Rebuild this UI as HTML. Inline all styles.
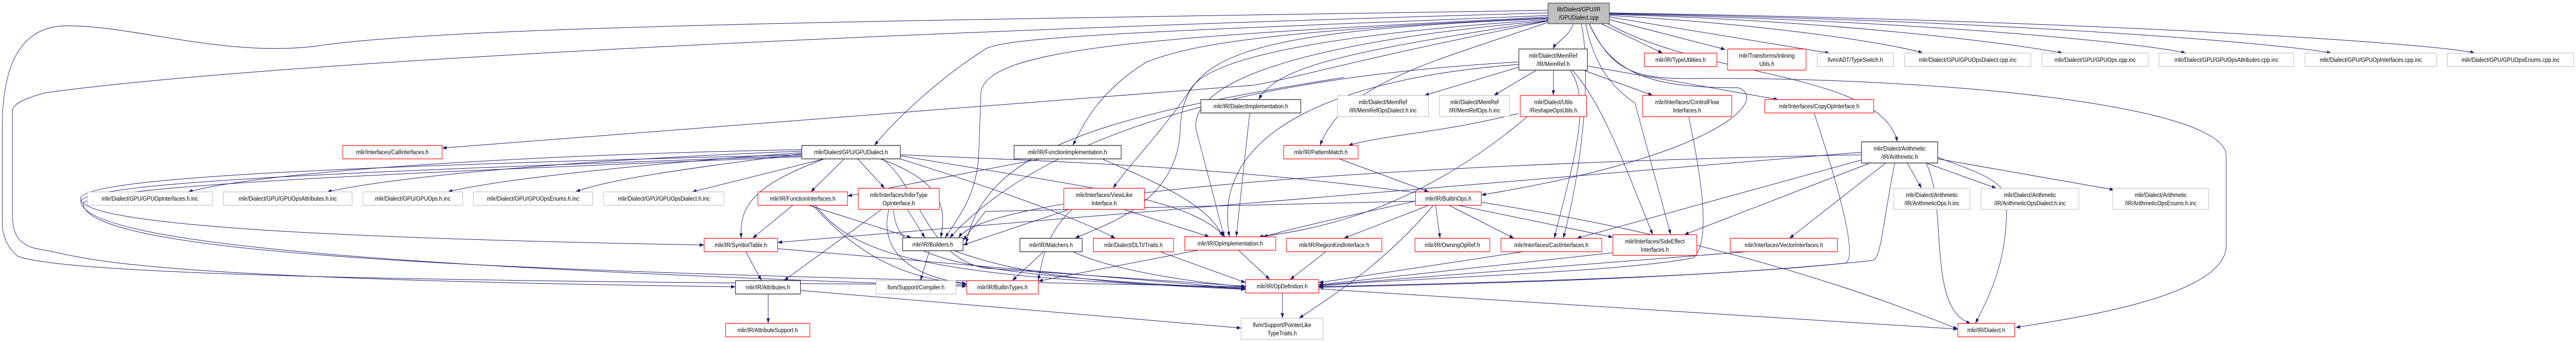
<!DOCTYPE html>
<html><head><meta charset="utf-8"><style>
html,body{margin:0;padding:0;background:#fff;overflow:hidden;width:100%;height:100%;}
svg{display:block;position:absolute;left:0;top:0;width:100vw;height:100vh;}
text{font-family:"Liberation Sans",sans-serif;font-size:12px;fill:#000;}
.b{fill:#fff;stroke:#404040;stroke-width:1.5;}
.r{fill:#fff;stroke:#ff0000;stroke-width:1.2;}
.g{fill:#fff;stroke:#bfbfbf;stroke-width:1.2;}
.e{fill:none;stroke:#191970;stroke-width:1;}
</style></head><body>
<svg viewBox="0 0 5751 663" preserveAspectRatio="none" xmlns="http://www.w3.org/2000/svg">
<defs><marker id="a" markerWidth="10" markerHeight="7" refX="10" refY="3.5" orient="auto" markerUnits="userSpaceOnUse"><path d="M0,0 L10,3.5 L0,7 z" fill="#191970"/></marker></defs>
<g marker-end="url(#a)">
<path class="e" d="M3512,46 C3505,70 3475,80 3467,95"/>
<path class="e" d="M3575,46 L3712,103"/>
<path class="e" d="M3593,38 L3852,96"/>
<path class="e" d="M3593,33 L4085,103"/>
<path class="e" d="M3593,30 C4000,50 4250,90 4293,103"/>
<path class="e" d="M3593,28 C4100,40 4500,85 4605,103"/>
<path class="e" d="M3593,27 C4300,40 4800,85 4880,103"/>
<path class="e" d="M3593,26 C4500,40 5100,85 5205,103"/>
<path class="e" d="M3593,25 C4700,40 5450,85 5525,103"/>
<path class="e" d="M3548,46 C3600,140 3650,155 3800,152 C4300,150 4960,200 4970,300 L4970,480 C4960,580 4600,620 4500,635"/>
<path class="e" d="M3590,46 C3800,150 4200,140 4236,275"/>
<path class="e" d="M3457,30 C2600,60 2250,70 2200,95 C2100,150 2000,230 1952,282"/>
<path class="e" d="M3457,35 C2800,60 2650,90 2560,120 C2450,180 2420,240 2395,282"/>
<path class="e" d="M3460,40 C3000,100 2850,130 2810,193"/>
<path class="e" d="M3460,42 C3200,120 3000,160 2947,282"/>
<path class="e" d="M3457,38 C2900,70 2700,120 2660,170 C2600,250 2520,320 2485,365"/>
<path class="e" d="M3457,33 C2600,70 2200,90 2190,180 L2185,300 C2180,380 2140,420 2110,461"/>
<path class="e" d="M3457,36 C2800,60 2640,100 2635,250 C2630,400 2450,440 2400,462"/>
<path class="e" d="M3457,40 C2800,90 2660,180 2670,250 L2733,459"/>
<path class="e" d="M3548,46 C3600,150 3700,170 3880,170 C3950,190 3850,300 3307,378"/>
<path class="e" d="M3460,40 C3000,120 2900,150 2800,165 L987,287"/>
<path class="e" d="M3540,46 C3560,130 3600,170 3650,200 L3730,455"/>
<path class="e" d="M3530,46 C3550,120 3540,300 3490,462"/>
<path class="e" d="M3457,20 C2000,40 1000,50 700,90 C500,110 300,50 150,50 C30,50 5,150 5,250 L5,430 C5,470 30,490 40,497 C150,530 800,545 2158,552"/>
<path class="e" d="M3457,25 C2000,60 600,120 100,180 C60,190 28,200 28,215 L28,420 C28,470 60,480 100,485 C200,500 250,540 1642,556"/>
<path class="e" d="M1790,290 C1200,300 600,330 420,372"/>
<path class="e" d="M1790,293 C1300,310 900,340 730,372"/>
<path class="e" d="M1790,296 C1400,320 1100,350 1000,372"/>
<path class="e" d="M1790,298 C1500,330 1350,350 1285,372"/>
<path class="e" d="M1840,308 L1545,372"/>
<path class="e" d="M1885,308 L1810,372"/>
<path class="e" d="M1915,308 L1975,365"/>
<path class="e" d="M1840,308 C1680,360 1650,400 1655,462"/>
<path class="e" d="M1965,308 C2100,350 2115,400 2100,461"/>
<path class="e" d="M2010,308 C2200,360 2400,420 2490,462"/>
<path class="e" d="M2010,302 C2400,360 2650,380 2735,459"/>
<path class="e" d="M1790,300 C900,320 180,340 180,385 C180,430 600,460 1572,475"/>
<path class="e" d="M1790,302 C900,330 200,350 180,390 C190,480 1000,520 2158,555"/>
<path class="e" d="M1790,304 C900,335 200,360 185,395 C200,500 1200,530 2781,556"/>
<path class="e" d="M2010,300 C2500,320 3500,330 4371,638"/>
<path class="e" d="M1970,308 C2050,360 2070,500 2200,520 L2781,555"/>
<path class="e" d="M1770,398 L1680,462"/>
<path class="e" d="M1805,398 L2035,461"/>
<path class="e" d="M1815,398 C1900,480 2000,540 2158,550"/>
<path class="e" d="M1820,398 C1900,480 2000,540 2781,558"/>
<path class="e" d="M1970,405 L1750,544"/>
<path class="e" d="M2025,405 L2065,461"/>
<path class="e" d="M1985,405 C1970,450 1980,530 2158,550"/>
<path class="e" d="M1995,405 C2000,500 2100,530 2781,560"/>
<path class="e" d="M1665,488 L1700,544"/>
<path class="e" d="M1736,482 L2781,560"/>
<path class="e" d="M2075,486 L2055,544"/>
<path class="e" d="M2130,486 C2300,540 2500,550 2781,561"/>
<path class="e" d="M1787,563 L2771,636"/>
<path class="e" d="M1715,570 L1715,627"/>
<path class="e" d="M2330,488 L2260,544"/>
<path class="e" d="M2395,488 C2500,530 2700,550 2781,556"/>
<path class="e" d="M2590,488 L2781,548"/>
<path class="e" d="M2675,485 L2318,545"/>
<path class="e" d="M2765,485 L2835,542"/>
<path class="e" d="M2960,488 L2880,542"/>
<path class="e" d="M2863,568 L2863,617"/>
<path class="e" d="M2944,560 L4371,638"/>
<path class="e" d="M2390,405 L2150,475"/>
<path class="e" d="M2395,405 C2350,440 2330,480 2318,544"/>
<path class="e" d="M2505,405 L2700,459"/>
<path class="e" d="M2323,308 L1892,380"/>
<path class="e" d="M2460,308 C2600,360 2700,400 2730,459"/>
<path class="e" d="M2790,219 L2760,459"/>
<path class="e" d="M3160,390 C3000,420 2900,440 2820,459"/>
<path class="e" d="M3190,398 L3000,462"/>
<path class="e" d="M3205,398 L3215,462"/>
<path class="e" d="M3235,398 L3380,462"/>
<path class="e" d="M3255,398 L3601,460"/>
<path class="e" d="M3200,398 C3100,500 3000,560 2900,617"/>
<path class="e" d="M3160,390 L2200,410 L2150,466"/>
<path class="e" d="M2990,308 L3190,372"/>
<path class="e" d="M3390,220 C3200,260 3100,260 3010,282"/>
<path class="e" d="M3410,226 C3200,380 3000,440 2810,459"/>
<path class="e" d="M3391,130 L3180,185"/>
<path class="e" d="M3430,136 L3335,185"/>
<path class="e" d="M3468,136 L3468,185"/>
<path class="e" d="M3535,136 L3690,185"/>
<path class="e" d="M3544,128 L3970,193"/>
<path class="e" d="M3505,136 C3560,200 3500,350 3470,462"/>
<path class="e" d="M3510,136 C3580,200 3640,350 3690,455"/>
<path class="e" d="M3391,120 C3000,140 2400,200 2120,461"/>
<path class="e" d="M3391,125 C3000,150 2700,250 2745,459"/>
<path class="e" d="M3770,226 C3800,350 3820,470 3780,500 C3600,530 3100,540 2944,555"/>
<path class="e" d="M4050,219 C4100,350 4150,500 4120,510 C3800,540 3200,550 2944,556"/>
<path class="e" d="M3400,488 L2944,548"/>
<path class="e" d="M3601,490 L2944,552"/>
<path class="e" d="M3900,488 L2944,553"/>
<path class="e" d="M4156,310 L3520,462"/>
<path class="e" d="M4175,316 L3760,455"/>
<path class="e" d="M4210,316 L3995,462"/>
<path class="e" d="M4258,316 L4290,365"/>
<path class="e" d="M4300,316 L4457,365"/>
<path class="e" d="M4326,308 L4720,368"/>
<path class="e" d="M4326,305 C4400,330 4490,350 4480,400 C4480,500 4450,560 4410,627"/>
<path class="e" d="M4300,316 C4350,400 4300,600 4400,627"/>
<path class="e" d="M4230,316 C4200,450 4200,500 4180,505 C3800,540 3300,550 2944,557"/>
<path class="e" d="M4156,300 C3000,320 2200,380 2140,461"/>
<path class="e" d="M4156,295 L1736,470"/>
<path class="e" d="M3000,150 C2500,220 2200,280 2157,472"/>
</g>
<rect class="g" x="3456" y="6" width="137" height="40" style="fill:#bfbfbf;stroke:#404040"/>
<text x="3524.5" y="22" text-anchor="middle">lib/Dialect/GPU/IR</text><text x="3524.5" y="38" text-anchor="middle">/GPUDialect.cpp</text>
<rect class="b" x="3391" y="95" width="153" height="41"/><text x="3467.5" y="112" text-anchor="middle">mlir/Dialect/MemRef</text><text x="3467.5" y="128" text-anchor="middle">/IR/MemRef.h</text>
<rect class="r" x="3671" y="103" width="162" height="26"/><text x="3752" y="120" text-anchor="middle">mlir/IR/TypeUtilities.h</text>
<rect class="r" x="3857" y="95" width="175" height="41"/><text x="3944.5" y="112" text-anchor="middle">mlir/Transforms/Inlining</text><text x="3944.5" y="128" text-anchor="middle">Utils.h</text>
<rect class="g" x="4057" y="103" width="170" height="26"/><text x="4142" y="120" text-anchor="middle">llvm/ADT/TypeSwitch.h</text>
<rect class="g" x="4252" y="103" width="282" height="26"/><text x="4393" y="120" text-anchor="middle">mlir/Dialect/GPU/GPUOpsDialect.cpp.inc</text>
<rect class="g" x="4559" y="103" width="237" height="26"/><text x="4677.5" y="120" text-anchor="middle">mlir/Dialect/GPU/GPUOps.cpp.inc</text>
<rect class="g" x="4820" y="103" width="301" height="26"/><text x="4970.5" y="120" text-anchor="middle">mlir/Dialect/GPU/GPUOpsAttributes.cpp.inc</text>
<rect class="g" x="5146" y="103" width="294" height="26"/><text x="5293" y="120" text-anchor="middle">mlir/Dialect/GPU/GPUOpInterfaces.cpp.inc</text>
<rect class="g" x="5464" y="103" width="282" height="26"/><text x="5605" y="120" text-anchor="middle">mlir/Dialect/GPU/GPUOpsEnums.cpp.inc</text>
<rect class="b" x="2681" y="193" width="223" height="26"/><text x="2792.5" y="210" text-anchor="middle">mlir/IR/DialectImplementation.h</text>
<rect class="g" x="2986" y="185" width="203" height="41"/><text x="3087.5" y="202" text-anchor="middle">mlir/Dialect/MemRef</text><text x="3087.5" y="218" text-anchor="middle">/IR/MemRefOpsDialect.h.inc</text>
<rect class="g" x="3214" y="185" width="156" height="41"/><text x="3292" y="202" text-anchor="middle">mlir/Dialect/MemRef</text><text x="3292" y="218" text-anchor="middle">/IR/MemRefOps.h.inc</text>
<rect class="r" x="3394" y="185" width="148" height="41"/><text x="3468" y="202" text-anchor="middle">mlir/Dialect/Utils</text><text x="3468" y="218" text-anchor="middle">/ReshapeOpsUtils.h</text>
<rect class="r" x="3667" y="185" width="199" height="41"/><text x="3766.5" y="202" text-anchor="middle">mlir/Interfaces/ControlFlow</text><text x="3766.5" y="218" text-anchor="middle">Interfaces.h</text>
<rect class="r" x="3940" y="193" width="243" height="26"/><text x="4061.5" y="210" text-anchor="middle">mlir/Interfaces/CopyOpInterface.h</text>
<rect class="r" x="765" y="282" width="222" height="26"/><text x="876" y="299" text-anchor="middle">mlir/Interfaces/CallInterfaces.h</text>
<rect class="b" x="1790" y="282" width="220" height="26"/><text x="1900" y="299" text-anchor="middle">mlir/Dialect/GPU/GPUDialect.h</text>
<rect class="b" x="2264" y="282" width="239" height="26"/><text x="2383.5" y="299" text-anchor="middle">mlir/IR/FunctionImplementation.h</text>
<rect class="r" x="2866" y="282" width="166" height="26"/><text x="2949" y="299" text-anchor="middle">mlir/IR/PatternMatch.h</text>
<rect class="b" x="4156" y="275" width="170" height="41"/><text x="4241" y="292" text-anchor="middle">mlir/Dialect/Arithmetic</text><text x="4241" y="308" text-anchor="middle">/IR/Arithmetic.h</text>
<rect class="g" x="195" y="372" width="279" height="26"/><text x="334.5" y="389" text-anchor="middle">mlir/Dialect/GPU/GPUOpInterfaces.h.inc</text>
<rect class="g" x="499" y="372" width="287" height="26"/><text x="642.5" y="389" text-anchor="middle">mlir/Dialect/GPU/GPUOpsAttributes.h.inc</text>
<rect class="g" x="810" y="372" width="223" height="26"/><text x="921.5" y="389" text-anchor="middle">mlir/Dialect/GPU/GPUOps.h.inc</text>
<rect class="g" x="1057" y="372" width="266" height="26"/><text x="1190" y="389" text-anchor="middle">mlir/Dialect/GPU/GPUOpsEnums.h.inc</text>
<rect class="g" x="1348" y="372" width="268" height="26"/><text x="1482" y="389" text-anchor="middle">mlir/Dialect/GPU/GPUOpsDialect.h.inc</text>
<rect class="r" x="1692" y="372" width="200" height="26"/><text x="1792" y="389" text-anchor="middle">mlir/IR/FunctionInterfaces.h</text>
<rect class="r" x="1916" y="365" width="181" height="41"/><text x="2006.5" y="382" text-anchor="middle">mlir/Interfaces/InferType</text><text x="2006.5" y="398" text-anchor="middle">OpInterface.h</text>
<rect class="r" x="2375" y="365" width="180" height="41"/><text x="2465" y="382" text-anchor="middle">mlir/Interfaces/ViewLike</text><text x="2465" y="398" text-anchor="middle">Interface.h</text>
<rect class="r" x="3160" y="372" width="147" height="26"/><text x="3233.5" y="389" text-anchor="middle">mlir/IR/BuiltinOps.h</text>
<rect class="g" x="4228" y="365" width="170" height="41"/><text x="4313" y="382" text-anchor="middle">mlir/Dialect/Arithmetic</text><text x="4313" y="398" text-anchor="middle">/IR/ArithmeticOps.h.inc</text>
<rect class="g" x="4423" y="365" width="218" height="41"/><text x="4532" y="382" text-anchor="middle">mlir/Dialect/Arithmetic</text><text x="4532" y="398" text-anchor="middle">/IR/ArithmeticOpsDialect.h.inc</text>
<rect class="g" x="4717" y="365" width="214" height="41"/><text x="4824" y="382" text-anchor="middle">mlir/Dialect/Arithmetic</text><text x="4824" y="398" text-anchor="middle">/IR/ArithmeticOpsEnums.h.inc</text>
<rect class="r" x="1572" y="462" width="164" height="26"/><text x="1654" y="479" text-anchor="middle">mlir/IR/SymbolTable.h</text>
<rect class="b" x="2015" y="461" width="135" height="25"/><text x="2082.5" y="478" text-anchor="middle">mlir/IR/Builders.h</text>
<rect class="b" x="2277" y="462" width="139" height="26"/><text x="2346.5" y="479" text-anchor="middle">mlir/IR/Matchers.h</text>
<rect class="r" x="2441" y="462" width="179" height="26"/><text x="2530.5" y="479" text-anchor="middle">mlir/Dialect/DLTI/Traits.h</text>
<rect class="r" x="2645" y="459" width="203" height="26"/><text x="2746.5" y="476" text-anchor="middle">mlir/IR/OpImplementation.h</text>
<rect class="r" x="2872" y="462" width="213" height="26"/><text x="2978.5" y="479" text-anchor="middle">mlir/IR/RegionKindInterface.h</text>
<rect class="r" x="3159" y="462" width="167" height="26"/><text x="3242.5" y="479" text-anchor="middle">mlir/IR/OwningOpRef.h</text>
<rect class="r" x="3351" y="462" width="225" height="26"/><text x="3463.5" y="479" text-anchor="middle">mlir/Interfaces/CastInterfaces.h</text>
<rect class="r" x="3601" y="455" width="187" height="40"/><text x="3694.5" y="472" text-anchor="middle">mlir/Interfaces/SideEffect</text><text x="3694.5" y="488" text-anchor="middle">Interfaces.h</text>
<rect class="r" x="3863" y="462" width="239" height="26"/><text x="3982.5" y="479" text-anchor="middle">mlir/Interfaces/VectorInterfaces.h</text>
<rect class="b" x="1642" y="544" width="145" height="26"/><text x="1714.5" y="561" text-anchor="middle">mlir/IR/Attributes.h</text>
<rect class="g" x="1956" y="544" width="178" height="26"/><text x="2045" y="561" text-anchor="middle">llvm/Support/Compiler.h</text>
<rect class="r" x="2158" y="544" width="160" height="26"/><text x="2238" y="561" text-anchor="middle">mlir/IR/BuiltinTypes.h</text>
<rect class="r" x="2781" y="542" width="163" height="26"/><text x="2862.5" y="559" text-anchor="middle">mlir/IR/OpDefinition.h</text>
<rect class="r" x="1620" y="627" width="188" height="26"/><text x="1714" y="644" text-anchor="middle">mlir/IR/AttributeSupport.h</text>
<rect class="g" x="2771" y="617" width="183" height="41"/><text x="2862.5" y="634" text-anchor="middle">llvm/Support/PointerLike</text><text x="2862.5" y="650" text-anchor="middle">TypeTraits.h</text>
<rect class="r" x="4371" y="627" width="127" height="26"/><text x="4434.5" y="644" text-anchor="middle">mlir/IR/Dialect.h</text>
</svg>
</body></html>
